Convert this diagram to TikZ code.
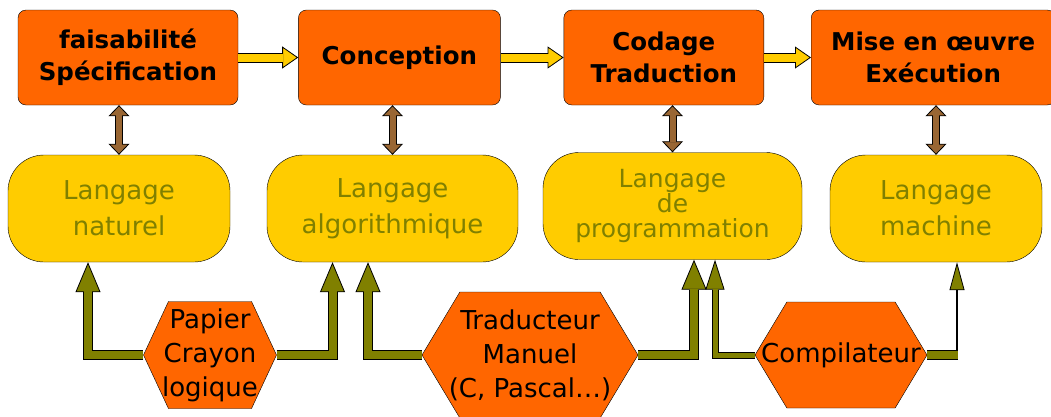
\documentclass[tikz,border=0pt]{standalone}
\usepackage{fontspec}
\setmainfont{DejaVu Sans}
\usetikzlibrary{arrows.meta, positioning, shapes.symbols}

\definecolor{orangeb}{RGB}{255,102,0}
\definecolor{jaune}{RGB}{255,204,0}
\definecolor{olivetxt}{RGB}{128,128,0}
\definecolor{brun}{RGB}{153,102,51}

\tikzset{
  etape/.style={rectangle, rounded corners=8pt, draw=black, fill=orangeb, minimum height=95pt,
    align=center, inner sep=2pt, font=\fontsize{24.5}{32}\selectfont\bfseries},
  langage/.style={rectangle, rounded corners=36pt, draw=black, fill=jaune, text=olivetxt,
    minimum height=107pt, align=center, font=\fontsize{26}{36}\selectfont},
  outil/.style={signal, signal to=east and west, signal pointer angle=118, draw=black, fill=orangeb,
    align=center, inner ysep=0pt, inner xsep=-30pt, font=\fontsize{26}{34}\selectfont},
  suivant/.style={draw=black, line width=10pt,
    -{Triangle[length=16pt,width=22pt,line width=0.8pt,color=black,fill=jaune]},
    postaction={draw=jaune, line width=8pt, arrows=-, shorten >=15pt}},
  lien/.style={draw=black, line width=8pt,
    {Triangle[length=11pt,width=21pt,line width=0.8pt,color=black,fill=brun]}-{Triangle[length=11pt,width=21pt,line width=0.8pt,color=black,fill=brun]},
    postaction={draw=brun, line width=6pt, arrows=-, shorten >=10pt, shorten <=10pt}},
  fleche/.style={draw=black, line width=10pt, line join=miter,
    -{Triangle[length=30pt,width=25pt,line width=0.8pt,color=black,fill=olivetxt]},
    postaction={draw=olivetxt, line width=8pt, line join=miter, arrows=-, shorten >=29pt}},
  flechefine/.style={draw=black, line width=7pt, line join=miter,
    -{Triangle[length=30pt,width=19pt,line width=0.8pt,color=black,fill=olivetxt]},
    postaction={draw=olivetxt, line width=5pt, line join=miter, arrows=-, shorten >=29pt}}
}

\begin{document}
\begin{tikzpicture}[x=1pt,y=-1pt]
\useasboundingbox (0,0) rectangle (1051,416);

% etapes
\node[etape, minimum width=220pt] (b1) at (128,57.5) {faisabilité\\Spécification};
\node[etape, minimum width=202pt, right=60pt of b1] (b2) {Conception};
\node[etape, minimum width=200pt, right=63pt of b2] (b3) {Codage\\Traduction};
\node[etape, minimum width=244pt, right=47pt of b3] (b4) {Mise en œuvre\\Exécution};

% langages
\node[langage, minimum width=222pt] (s1) at (119,208.5) {Langage\\naturel};
\node[langage, minimum width=251pt] (s2) at (392.5,208.5) {Langage\\algorithmique};
\node[langage, minimum width=259pt, font=\fontsize{25}{25}\selectfont] (s3) at (672.5,206) {Langage\\de\\programmation};
\node[langage, minimum width=212pt] (s4) at (936,208.5) {Langage\\machine};

% outils
\node[outil, minimum width=133pt, minimum height=107pt, signal pointer angle=130] (h1) at (210,355) {Papier\\Crayon\\logique};
\node[outil, minimum width=216pt, minimum height=126pt] (h2) at (530,355) {Traducteur\\Manuel\\(C, Pascal…)};
\node[outil, minimum width=172pt, minimum height=106pt] (h3) at (841,355) {Compilateur};

% enchainement
\draw[suivant] (b1) -- (b2);
\draw[suivant] (b2) -- (b3);
\draw[suivant] (b3) -- (b4);

% liens etape / langage
\foreach \i in {1,...,4}
  \draw[lien] (s\i.north |- b\i.south) -- (s\i.north);

% outils vers langages
\draw[fleche] (h1.west) -| ([xshift=-31pt]s1.south);
\draw[fleche] (h1.east) -| ([xshift=-60pt]s2.south);
\draw[fleche] (h2.west) -| ([xshift=-24.5pt]s2.south);
\draw[fleche] (h2.east) -| ([xshift=21.5pt]s3.south);
\draw[flechefine] (h3.west) -| ([xshift=42.5pt]s3.south);
\coordinate (k6) at ([xshift=21pt]s4.south |- h3.east);
\draw[draw=black, line width=10pt, postaction={draw=olivetxt, line width=8pt}] (h3.east) -- ([xshift=1pt]k6);
\draw[black, line width=1.2pt, -{Triangle[length=28pt,width=15pt,line width=0.8pt,color=black,fill=olivetxt]}] ([yshift=5pt]k6) -- ([xshift=21pt]s4.south);
\end{tikzpicture}
\end{document}
